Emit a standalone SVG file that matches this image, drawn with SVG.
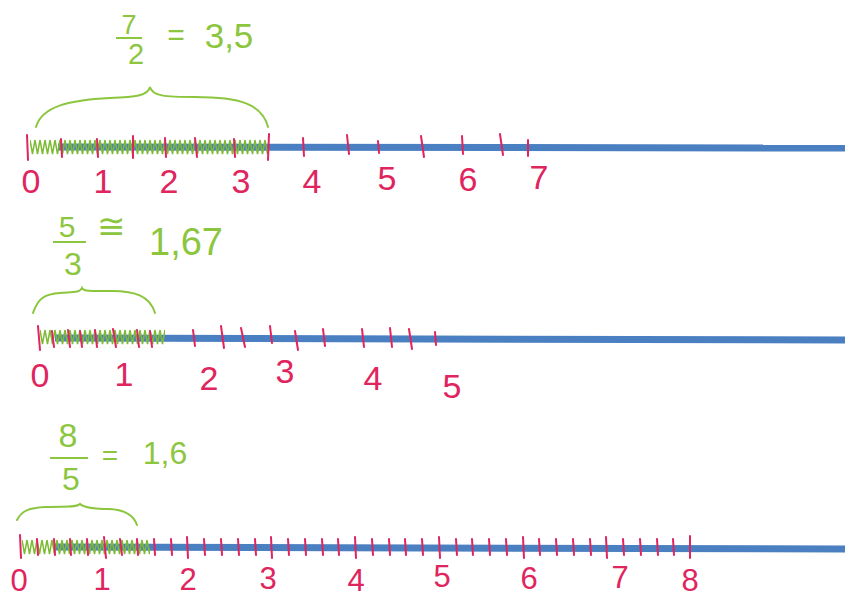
<svg xmlns="http://www.w3.org/2000/svg" width="845" height="598" viewBox="0 0 845 598">
<style>
.axis{stroke:#4a7fc1;stroke-width:7;fill:none}
.tick{stroke:#e0245e;stroke-width:2;fill:none;stroke-linecap:round}
.brace{stroke:#8cc63f;stroke-width:2;fill:none;stroke-linecap:round}
.bar{stroke:#8cc63f;stroke-width:2;fill:none}
.lab{font-family:"Liberation Sans",Arial,sans-serif;font-size:34px;fill:#e0245e;text-anchor:middle}
.lab3{font-family:"Liberation Sans",Arial,sans-serif;font-size:31px;fill:#e0245e;text-anchor:middle}
.frac{font-family:"Liberation Sans",Arial,sans-serif;fill:#8cc63f;text-anchor:middle}
</style>
<defs>
<pattern id="zz" width="5" height="18" patternUnits="userSpaceOnUse">
<path d="M0,2 L2.5,16 L5,2" stroke="#7dbb35" stroke-width="1.5" fill="none"/>
</pattern>
</defs>
<rect width="845" height="598" fill="#ffffff"/>

<g id="line1">
<line class="axis" x1="58" y1="147" x2="845" y2="148"/>
<g transform="translate(30,138)"><rect width="238" height="18" fill="url(#zz)"/></g>
<path class="tick" d="M27,135 L28,160 M61,139 L62,157 M97,139 L98,157 M133,136 L133,158 M165,138 L166,157 M195,138 L197,157 M234,139 L235,157 M269,134 L268,160 M303,138 L304,156 M347,135 L349,154 M378,141 L379,153 M421,136 L424,157 M462,136 L463,154 M500,134 L503,155 M528,140 L528,156"/>
<text class="lab" x="31" y="193">0</text>
<text class="lab" x="103" y="193">1</text>
<text class="lab" x="169" y="193">2</text>
<text class="lab" x="241" y="193">3</text>
<text class="lab" x="312" y="193">4</text>
<text class="lab" x="387" y="190">5</text>
<text class="lab" x="468" y="191">6</text>
<text class="lab" x="539" y="189">7</text>
<path class="brace" d="M36,127 C42,106 70,100 110,98 C135,97 148,96 150,87 C152,96 165,97 195,97 C240,97 262,104 268,127"/>
<text class="frac" x="129" y="34" font-size="27">7</text>
<line class="bar" x1="116" y1="38" x2="142" y2="38"/>
<text class="frac" x="136" y="64" font-size="29">2</text>
<text class="frac" x="176" y="45" font-size="30">=</text>
<text class="frac" x="229" y="48" font-size="35">3,5</text>
</g>

<g id="line2">
<line class="axis" x1="55" y1="338" x2="845" y2="340"/>
<g transform="translate(40,328)"><rect width="125" height="20" fill="url(#zz)"/></g>
<path class="tick" d="M38,326 L40,350 M52,331 L54,347 M68,330 L70,347 M80,331 L82,347 M95,330 L97,347 M113,329 L116,347 M137,330 L139,347 M150,331 L152,347 M193,330 L195,346 M221,326 L224,348 M241,328 L245,347 M270,326 L272,343 M295,331 L298,350 M323,329 L325,346 M362,329 L364,347 M390,328 L392,347 M409,329 L412,349 M435,332 L436,345"/>
<text class="lab" x="40" y="387">0</text>
<text class="lab" x="124" y="386">1</text>
<text class="lab" x="209" y="390">2</text>
<text class="lab" x="285" y="383">3</text>
<text class="lab" x="373" y="390">4</text>
<text class="lab" x="452" y="398">5</text>
<path class="brace" d="M33,313 C38,298 45,294 60,293 C72,292 80,293 82,288 C84,292 95,291 112,291 C135,291 150,296 155,313"/>
<text class="frac" x="67" y="237" font-size="30">5</text>
<line class="bar" x1="53" y1="242" x2="86" y2="242"/>
<text class="frac" x="73" y="275" font-size="32">3</text>
<text class="frac" x="111" y="238" font-size="34">≅</text>
<text class="frac" x="186" y="255" font-size="38">1,67</text>
</g>

<g id="line3">
<line class="axis" x1="55" y1="547" x2="845" y2="549"/>
<g transform="translate(22,538)"><rect width="128" height="18" fill="url(#zz)"/></g>
<path class="tick" d="M20,535 L21,558 M37,539 L38,555 M54,539 L55,555 M70,539 L71,555 M87,539 L88,555 M104,537 L106,558 M120,539 L122,555 M137,539 L138,555 M154,539 L155,555 M171,539 L172,555 M187,537 L188,558 M204,539 L205,555 M221,539 L222,555 M238,539 L239,555 M255,539 L256,555 M271,537 L272,558 M288,539 L289,555 M305,539 L306,555 M322,539 L323,555 M338,539 L339,555 M355,537 L356,558 M372,539 L373,555 M389,539 L390,555 M405,539 L406,555 M422,539 L423,555 M439,537 L440,558 M456,539 L457,555 M472,539 L473,555 M489,539 L490,555 M506,539 L507,555 M523,537 L524,558 M539,539 L540,555 M556,539 L557,555 M573,539 L574,555 M590,539 L591,555 M606,537 L607,558 M623,539 L624,555 M640,539 L641,555 M657,539 L658,555 M673,539 L674,555 M690,536 L690,558"/>
<text class="lab3" x="19" y="591">0</text>
<text class="lab3" x="102" y="590">1</text>
<text class="lab3" x="188" y="590">2</text>
<text class="lab3" x="268" y="589">3</text>
<text class="lab3" x="356" y="591">4</text>
<text class="lab3" x="442" y="587">5</text>
<text class="lab3" x="529" y="589">6</text>
<text class="lab3" x="620" y="588">7</text>
<text class="lab3" x="690" y="591">8</text>
<path class="brace" d="M17,520 C22,510 30,508 45,507 C65,506 76,508 80,504 C84,508 95,509 110,509 C126,510 134,516 137,525"/>
<text class="frac" x="68" y="447" font-size="34">8</text>
<line class="bar" x1="50" y1="458" x2="88" y2="458"/>
<text class="frac" x="71" y="490" font-size="32">5</text>
<text class="frac" x="110" y="465" font-size="28">=</text>
<text class="frac" x="165" y="464" font-size="32">1,6</text>
</g>
</svg>
